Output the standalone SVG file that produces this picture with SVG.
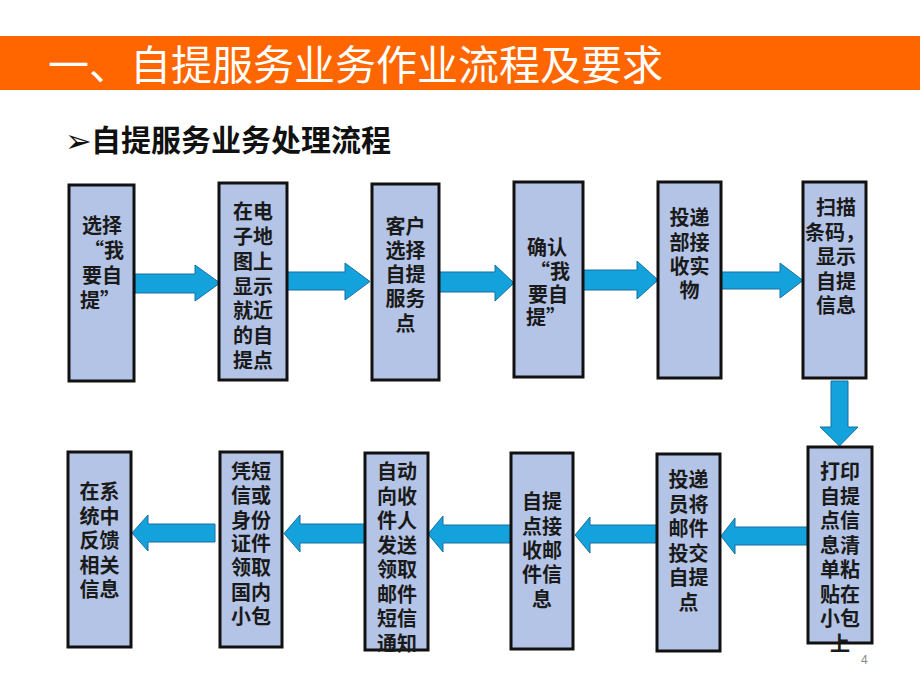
<svg xmlns="http://www.w3.org/2000/svg" width="920" height="691" viewBox="0 0 920 691">
<style>
.box{fill:#b4c4e6;stroke:#111;stroke-width:3}
.t{font-family:"Noto Sans CJK SC","Liberation Sans",sans-serif;font-weight:bold;font-size:20px;fill:#1a1a1a;text-anchor:middle}
.ar{fill:#14a2dd;stroke:#1a6fa0;stroke-width:1}
</style>
<rect x="0" y="36" width="920" height="54" fill="#ff6600"/>
<text x="48" y="80" font-family="'Noto Sans CJK SC','Liberation Sans',sans-serif" font-size="41" fill="#ffffff">一、自提服务业务作业流程及要求</text>
<text x="65" y="152" font-family="'DejaVu Sans',sans-serif" font-weight="bold" font-size="32" fill="#111">➢</text>
<text x="91" y="151" font-family="'Noto Sans CJK SC','Liberation Sans',sans-serif" font-weight="bold" font-size="30" fill="#111">自提服务业务处理流程</text>
<g id="connectors">
<polygon class="ar" points="135,274 195,274 195,265 220,283 195,301 195,293 135,293"/>
<polygon class="ar" points="287,272 345,272 345,263 370,281.5 345,300 345,290 287,290"/>
<polygon class="ar" points="439,272 495,272 495,265 514,283 495,301 495,292 439,292"/>
<polygon class="ar" points="583,270 637,270 637,261 658,280 637,299 637,290 583,290"/>
<polygon class="ar" points="721,272 780,272 780,263 803,280.5 780,298 780,289 721,289"/>
<polygon class="ar" points="831,381 848,381 848,427 858,427 839.5,446 820,427 831,427"/>
<polygon class="ar" points="808,527 735,527 735,518 721,536 735,554 735,545 808,545"/>
<polygon class="ar" points="657,525 590,525 590,517 575,535 590,553 590,543 657,543"/>
<polygon class="ar" points="511,525 443,525 443,516 428,534 443,552 443,543 511,543"/>
<polygon class="ar" points="365,524 300,524 300,515 284,533.5 300,552 300,543 365,543"/>
<polygon class="ar" points="215,524 148,524 148,515 132,533 148,551 148,542 215,542"/>
</g>
<g id="n1"><rect class="box" x="69" y="185" width="65" height="196"/>
<text class="t" x="102"><tspan x="102" y="232.5">选择</tspan><tspan x="104" y="257.5">“我</tspan><tspan x="102" y="282.5">要自</tspan><tspan x="100" y="307.5">提”</tspan></text></g>
<g id="n2"><rect class="box" x="219" y="183" width="68" height="197"/>
<text class="t"><tspan x="253" y="219">在电</tspan><tspan x="253" y="244">子地</tspan><tspan x="253" y="269">图上</tspan><tspan x="253" y="293.5">显示</tspan><tspan x="253" y="318">就近</tspan><tspan x="253" y="343">的自</tspan><tspan x="253" y="367.5">提点</tspan></text></g>
<g id="n3"><rect class="box" x="372" y="184" width="67" height="196"/>
<text class="t"><tspan x="405.5" y="234">客户</tspan><tspan x="405.5" y="258">选择</tspan><tspan x="405.5" y="282">自提</tspan><tspan x="405.5" y="306">服务</tspan><tspan x="405.5" y="331">点</tspan></text></g>
<g id="n4"><rect class="box" x="514" y="182" width="69" height="195"/>
<text class="t"><tspan x="547" y="255">确认</tspan><tspan x="550" y="279">“我</tspan><tspan x="548" y="302">要自</tspan><tspan x="546" y="325">提”</tspan></text></g>
<g id="n5"><rect class="box" x="658" y="182" width="63" height="196"/>
<text class="t"><tspan x="689.5" y="225">投递</tspan><tspan x="689.5" y="249.5">部接</tspan><tspan x="689.5" y="274">收实</tspan><tspan x="689.5" y="297.5">物</tspan></text></g>
<g id="n6"><rect class="box" x="803" y="182" width="63" height="196"/>
<text class="t"><tspan x="836" y="215">扫描</tspan><tspan x="835" y="240">条码，</tspan><tspan x="836" y="264">显示</tspan><tspan x="836" y="289">自提</tspan><tspan x="836" y="313">信息</tspan></text></g>
<g id="n7"><rect class="box" x="808" y="447" width="64" height="196"/>
<text class="t"><tspan x="840" y="479">打印</tspan><tspan x="840" y="503.5">自提</tspan><tspan x="840" y="528">点信</tspan><tspan x="840" y="552.5">息清</tspan><tspan x="840" y="577">单粘</tspan><tspan x="840" y="601.5">贴在</tspan><tspan x="840" y="626">小包</tspan><tspan x="840" y="650.5">上</tspan></text></g>
<g id="n8"><rect class="box" x="657" y="454" width="63" height="197"/>
<text class="t"><tspan x="688.5" y="487">投递</tspan><tspan x="688.5" y="511.5">员将</tspan><tspan x="688.5" y="536">邮件</tspan><tspan x="688.5" y="560.5">投交</tspan><tspan x="688.5" y="585">自提</tspan><tspan x="688.5" y="609.5">点</tspan></text></g>
<g id="n9"><rect class="box" x="511" y="453" width="62" height="196"/>
<text class="t"><tspan x="542" y="509">自提</tspan><tspan x="542" y="533.5">点接</tspan><tspan x="542" y="558">收邮</tspan><tspan x="542" y="582">件信</tspan><tspan x="542" y="607">息</tspan></text></g>
<g id="n10"><rect class="box" x="365" y="453" width="63" height="197"/>
<text class="t"><tspan x="397" y="479">自动</tspan><tspan x="397" y="503.5">向收</tspan><tspan x="397" y="528">件人</tspan><tspan x="397" y="552.5">发送</tspan><tspan x="397" y="577">领取</tspan><tspan x="397" y="601.5">邮件</tspan><tspan x="397" y="626">短信</tspan><tspan x="397" y="650.5">通知</tspan></text></g>
<g id="n11"><rect class="box" x="220" y="452" width="62" height="195"/>
<text class="t"><tspan x="251" y="479">凭短</tspan><tspan x="251" y="503">信或</tspan><tspan x="251" y="527.5">身份</tspan><tspan x="251" y="551">证件</tspan><tspan x="251" y="575">领取</tspan><tspan x="251" y="599.5">国内</tspan><tspan x="251" y="623.5">小包</tspan></text></g>
<g id="n12"><rect class="box" x="68" y="452" width="63" height="195"/>
<text class="t"><tspan x="99.5" y="499">在系</tspan><tspan x="99.5" y="523.5">统中</tspan><tspan x="99.5" y="548">反馈</tspan><tspan x="99.5" y="572.5">相关</tspan><tspan x="99.5" y="597">信息</tspan></text></g>
<text x="861" y="664" font-family="'Liberation Sans',sans-serif" font-size="12" fill="#888">4</text>
</svg>
